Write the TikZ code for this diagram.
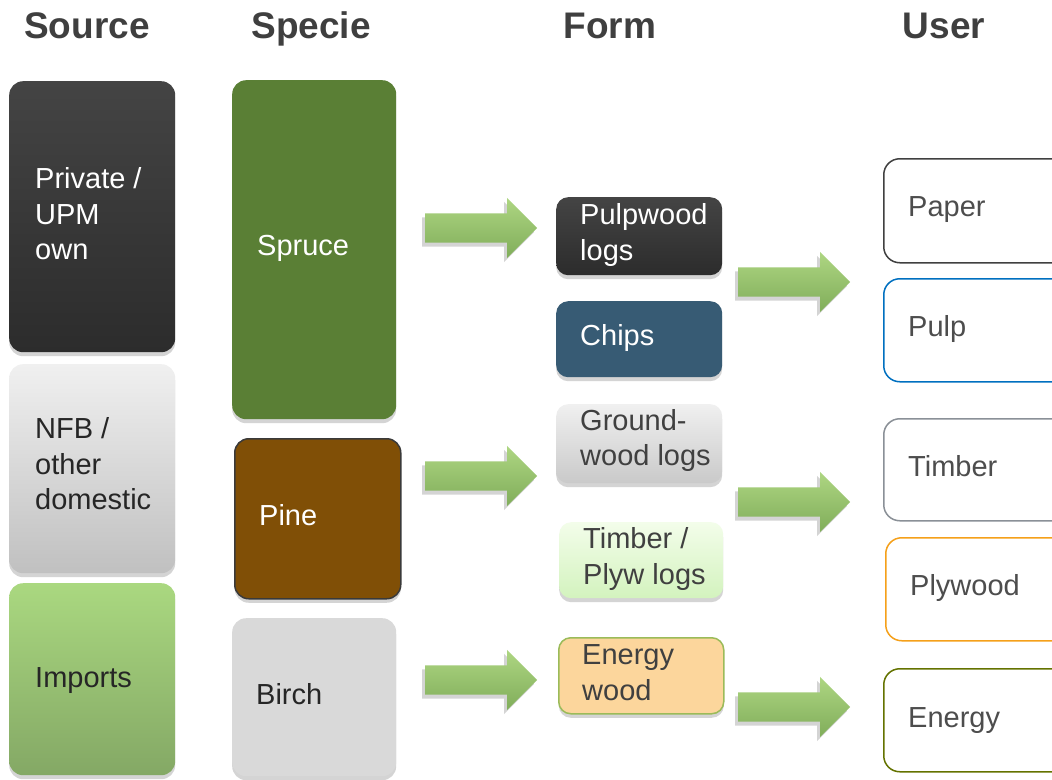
\documentclass[tikz,border=0pt]{standalone}
\usepackage{fontspec}
\setmainfont{Liberation Sans}
\usetikzlibrary{shadows,shapes.arrows}
\definecolor{hdr}{HTML}{3F3F3F}
\definecolor{darkTop}{HTML}{444444}
\definecolor{darkBot}{HTML}{2C2C2C}
\definecolor{lgTop}{HTML}{F0F0F0}
\definecolor{lgBot}{HTML}{C0C0C0}
\definecolor{impTop}{HTML}{AAD880}
\definecolor{impBot}{HTML}{84A865}
\definecolor{spruce}{HTML}{5A7F35}
\definecolor{pine}{HTML}{804F06}
\definecolor{pineBd}{HTML}{3A3A3A}
\definecolor{birch}{HTML}{D9D9D9}
\definecolor{chips}{HTML}{375B74}
\definecolor{tplTop}{HTML}{F3FDEA}
\definecolor{tplBot}{HTML}{D3F3BE}
\definecolor{enw}{HTML}{FCD69C}
\definecolor{enwBd}{HTML}{9BBB59}
\definecolor{arrTop}{HTML}{AED682}
\definecolor{arrBot}{HTML}{80AD5A}
\definecolor{txtDark}{HTML}{262626}
\definecolor{txtGray}{HTML}{404040}
\definecolor{usrTxt}{HTML}{4D4D4D}
\definecolor{bdPaper}{HTML}{404040}
\definecolor{bdPulp}{HTML}{0070C0}
\definecolor{bdTimber}{HTML}{8A9097}
\definecolor{bdPly}{HTML}{F5A01A}
\definecolor{bdEnergy}{HTML}{647300}
\begin{document}
\begin{tikzpicture}[x=1pt,y=-1pt,
  hdrtxt/.style={font=\fontsize{37}{44}\selectfont\bfseries, text=hdr, inner sep=0pt, anchor=base},
  txt/.style={font=\fontsize{29}{35.5}\selectfont, align=left, inner sep=0pt, anchor=west},
  box/.style={rectangle, rounded corners=14pt, inner sep=0pt, anchor=north west, draw=none},
  shd/.style={drop shadow={shadow xshift=0pt, shadow yshift=-4pt, fill=black!17, opacity=1}},
  blockarrow/.style={single arrow, single arrow head extend=15.5pt, single arrow tip angle=90,
     minimum height=112pt, inner xsep=0pt, inner ysep=14.5pt, anchor=tail,
     top color=arrTop, bottom color=arrBot, draw=none,
     drop shadow={shadow xshift=-3pt, shadow yshift=-4pt, fill=black!17, opacity=1}},
  usr/.style={box, fill=white, line width=1.5pt, rounded corners=16pt,
     minimum width=200pt, minimum height=103pt}
]
\useasboundingbox (0,0) rectangle (1052,779);
\fill[white] (0,0) rectangle (1052,779);
\clip (0,0) rectangle (1052,779);

% headers
\node[hdrtxt] (hSource) at (87,38) {Source};
\node[hdrtxt] (hSpecie) at (311,38) {Specie};
\node[hdrtxt] (hForm) at (610,38) {Form};
\node[hdrtxt] (hUser) at (944,38) {User};

% source column
\node[box, shd, top color=darkTop, bottom color=darkBot, minimum width=166pt, minimum height=271pt] (priv) at (9,81) {};
\node[txt, text=white] (tpriv) at ([xshift=26pt,yshift=3pt]priv.west) {Private /\\UPM\\own};
\node[box, shd, top color=lgTop, bottom color=lgBot, minimum width=166pt, minimum height=209pt] (nfb) at (9,364) {};
\node[txt, text=txtDark] (tnfb) at ([xshift=26pt,yshift=5pt]nfb.west) {NFB /\\other\\domestic};
\node[box, shd, top color=impTop, bottom color=impBot, minimum width=166pt, minimum height=192pt] (imp) at (9,583) {};
\node[txt, text=txtDark] (timp) at ([xshift=26pt,yshift=-1pt]imp.west) {Imports};

% specie column
\node[box, shd, fill=spruce, minimum width=164pt, minimum height=339pt] (spruce) at (232,80) {};
\node[txt, text=white] (tspruce) at ([xshift=25pt,yshift=1pt]spruce.west) {Spruce};
\node[box, shd, fill=pine, draw=pineBd, line width=1.5pt, minimum width=166pt, minimum height=160pt] (pine) at (234,438) {};
\node[txt, text=white] (tpine) at ([xshift=25pt,yshift=4pt]pine.west) {Pine};
\node[box, shd, fill=birch, minimum width=164pt, minimum height=158pt] (birch) at (232,618) {};
\node[txt, text=txtDark] (tbirch) at ([xshift=24pt,yshift=3pt]birch.west) {Birch};

% form column
\node[box, shd, rounded corners=12pt, top color=darkTop, bottom color=darkBot, minimum width=166pt, minimum height=78pt] (pulpw) at (556,197) {};
\node[txt, text=white] (tpulpw) at ([xshift=24pt,yshift=1pt]pulpw.west) {Pulpwood\\logs};
\node[box, shd, rounded corners=12pt, fill=chips, minimum width=166pt, minimum height=76pt] (chips) at (556,301) {};
\node[txt, text=white] (tchips) at ([xshift=24pt,yshift=1pt]chips.west) {Chips};
\node[box, shd, rounded corners=12pt, top color=lgTop, bottom color=lgBot!85!white, minimum width=166pt, minimum height=79pt] (ground) at (556,404) {};
\node[txt, text=txtGray] (tground) at ([xshift=24pt,yshift=3pt]ground.west) {Ground-\\wood logs};
\node[box, shd, rounded corners=12pt, top color=tplTop, bottom color=tplBot, minimum width=164pt, minimum height=76pt] (tply) at (559,522) {};
\node[txt, text=txtGray] (ttply) at ([xshift=24pt,yshift=1pt]tply.west) {Timber /\\Plyw logs};
\node[box, shd, rounded corners=12pt, fill=enw, draw=enwBd, line width=1.5pt, minimum width=165pt, minimum height=76pt] (enw) at (558,637) {};
\node[txt, text=txtGray] (tenw) at ([xshift=24pt,yshift=3pt]enw.west) {Energy\\wood};

% user column
\node[usr, draw=bdPaper, minimum height=104pt] (paper) at (883,158) {};
\node[txt, text=usrTxt] (tpaper) at ([xshift=25pt,yshift=1pt]paper.west) {Paper};
\node[usr, draw=bdPulp] (pulp) at (883,278) {};
\node[txt, text=usrTxt] (tpulp) at ([xshift=25pt,yshift=1pt]pulp.west) {Pulp};
\node[usr, draw=bdTimber, minimum height=102pt] (timber) at (883,418) {};
\node[txt, text=usrTxt] (ttimber) at ([xshift=25pt,yshift=4pt]timber.west) {Timber};
\node[usr, draw=bdPly] (plywood) at (885,537) {};
\node[txt, text=usrTxt] (tplywood) at ([xshift=25pt,yshift=1pt]plywood.west) {Plywood};
\node[usr, draw=bdEnergy] (energy) at (883,668) {};
\node[txt, text=usrTxt] (tenergy) at ([xshift=25pt,yshift=0pt]energy.west) {Energy};

% block arrows
\node[blockarrow] (a1) at (425,228) {};
\node[blockarrow] (a2) at (425,476) {};
\node[blockarrow] (a3) at (425,680) {};
\node[blockarrow] (b1) at (738,282) {};
\node[blockarrow] (b2) at (738,502) {};
\node[blockarrow] (b3) at (738,707) {};
\end{tikzpicture}
\end{document}
